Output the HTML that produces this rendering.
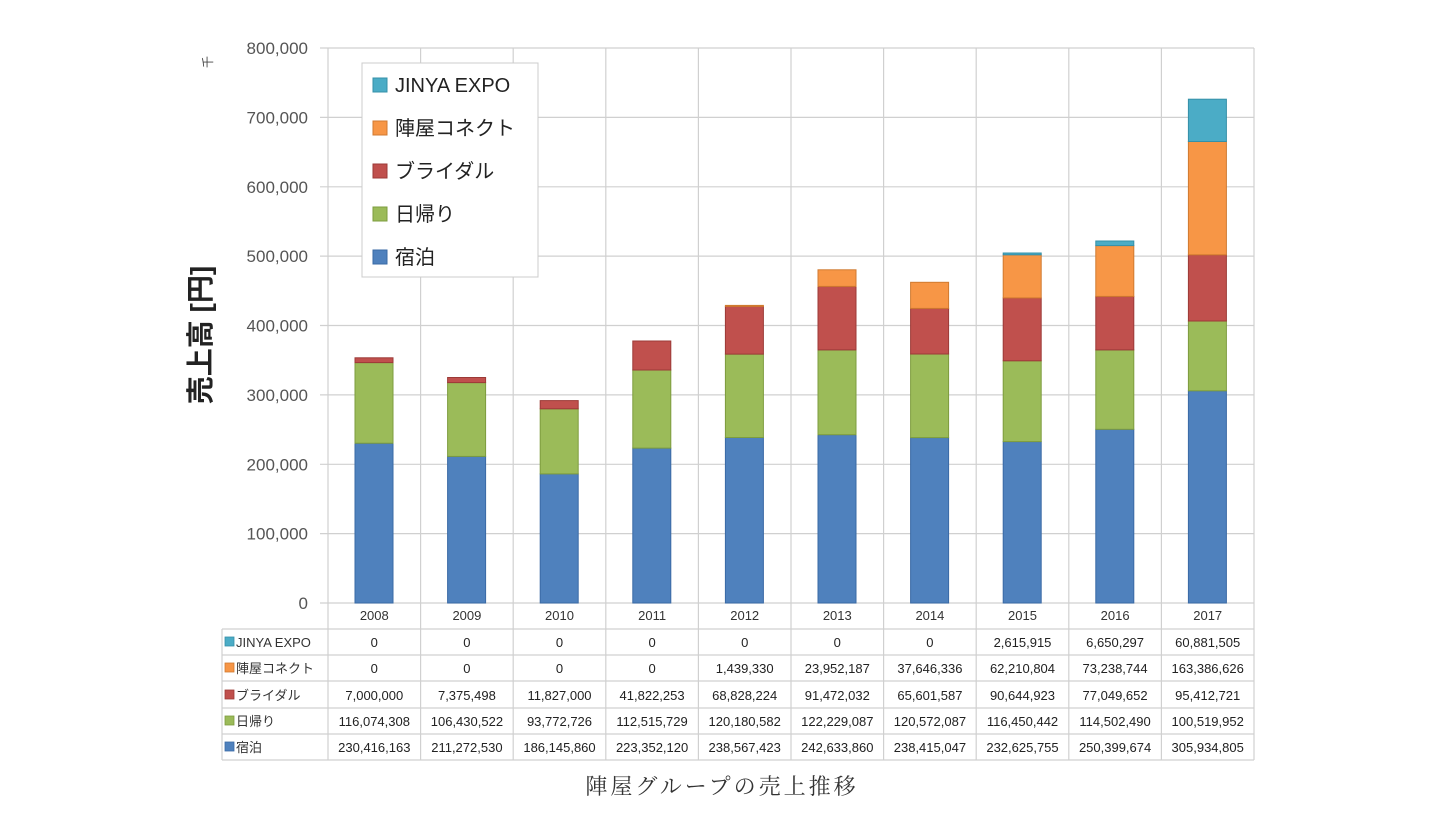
<!DOCTYPE html>
<html><head><meta charset="utf-8"><style>
body{margin:0;background:#fff;width:1440px;height:823px;overflow:hidden}
</style></head><body>
<svg width="1440" height="823" xmlns="http://www.w3.org/2000/svg" font-family="'Liberation Sans','Noto Sans CJK JP',sans-serif">
<g stroke="#d0d0d0" stroke-width="1.2">
<line x1="320" y1="48" x2="1254" y2="48"/>
<line x1="320" y1="117.4" x2="1254" y2="117.4"/>
<line x1="320" y1="186.8" x2="1254" y2="186.8"/>
<line x1="320" y1="256.1" x2="1254" y2="256.1"/>
<line x1="320" y1="325.5" x2="1254" y2="325.5"/>
<line x1="320" y1="394.9" x2="1254" y2="394.9"/>
<line x1="320" y1="464.3" x2="1254" y2="464.3"/>
<line x1="320" y1="533.6" x2="1254" y2="533.6"/>
<line x1="320" y1="603" x2="1254" y2="603"/>
<line x1="328" y1="48" x2="328" y2="760"/>
<line x1="420.6" y1="48" x2="420.6" y2="760"/>
<line x1="513.2" y1="48" x2="513.2" y2="760"/>
<line x1="605.8" y1="48" x2="605.8" y2="760"/>
<line x1="698.4" y1="48" x2="698.4" y2="760"/>
<line x1="791" y1="48" x2="791" y2="760"/>
<line x1="883.6" y1="48" x2="883.6" y2="760"/>
<line x1="976.2" y1="48" x2="976.2" y2="760"/>
<line x1="1068.8" y1="48" x2="1068.8" y2="760"/>
<line x1="1161.4" y1="48" x2="1161.4" y2="760"/>
<line x1="1254" y1="48" x2="1254" y2="760"/>
<line x1="222" y1="629" x2="1254" y2="629"/>
<line x1="222" y1="655" x2="1254" y2="655"/>
<line x1="222" y1="681" x2="1254" y2="681"/>
<line x1="222" y1="708" x2="1254" y2="708"/>
<line x1="222" y1="734" x2="1254" y2="734"/>
<line x1="222" y1="760" x2="1254" y2="760"/>
<line x1="222" y1="629" x2="222" y2="760"/>
</g>
<g stroke-width="1">
<g fill="#4f81bd" stroke="#3a6aa5">
<rect x="355" y="443.2" width="38" height="159.8"/>
<rect x="447.6" y="456.4" width="38" height="146.6"/>
<rect x="540.2" y="473.9" width="38" height="129.1"/>
<rect x="632.8" y="448.1" width="38" height="154.9"/>
<rect x="725.4" y="437.5" width="38" height="165.5"/>
<rect x="818" y="434.7" width="38" height="168.3"/>
<rect x="910.6" y="437.6" width="38" height="165.4"/>
<rect x="1003.2" y="441.6" width="38" height="161.4"/>
<rect x="1095.8" y="429.3" width="38" height="173.7"/>
<rect x="1188.4" y="390.8" width="38" height="212.2"/>
</g>
<g fill="#9bbb59" stroke="#7d9c3e">
<rect x="355" y="362.6" width="38" height="80.6"/>
<rect x="447.6" y="382.6" width="38" height="73.8"/>
<rect x="540.2" y="408.8" width="38" height="65.1"/>
<rect x="632.8" y="370" width="38" height="78.1"/>
<rect x="725.4" y="354.1" width="38" height="83.4"/>
<rect x="818" y="349.9" width="38" height="84.8"/>
<rect x="910.6" y="354" width="38" height="83.6"/>
<rect x="1003.2" y="360.8" width="38" height="80.8"/>
<rect x="1095.8" y="349.9" width="38" height="79.4"/>
<rect x="1188.4" y="321" width="38" height="69.8"/>
</g>
<g fill="#c0504d" stroke="#9c3a37">
<rect x="355" y="357.8" width="38" height="4.8"/>
<rect x="447.6" y="377.5" width="38" height="5.1"/>
<rect x="540.2" y="400.6" width="38" height="8.2"/>
<rect x="632.8" y="341" width="38" height="29"/>
<rect x="725.4" y="306.4" width="38" height="47.7"/>
<rect x="818" y="286.4" width="38" height="63.5"/>
<rect x="910.6" y="308.4" width="38" height="45.6"/>
<rect x="1003.2" y="297.9" width="38" height="62.9"/>
<rect x="1095.8" y="296.4" width="38" height="53.5"/>
<rect x="1188.4" y="254.8" width="38" height="66.2"/>
</g>
<g fill="#f79646" stroke="#d07a30">
<rect x="725.4" y="305.4" width="38" height="1"/>
<rect x="818" y="269.8" width="38" height="16.6"/>
<rect x="910.6" y="282.3" width="38" height="26.1"/>
<rect x="1003.2" y="254.8" width="38" height="43.1"/>
<rect x="1095.8" y="245.6" width="38" height="50.8"/>
<rect x="1188.4" y="141.5" width="38" height="113.3"/>
</g>
<g fill="#4bacc6" stroke="#3590a8">
<rect x="1003.2" y="253" width="38" height="1.8"/>
<rect x="1095.8" y="241" width="38" height="4.6"/>
<rect x="1188.4" y="99.2" width="38" height="42.3"/>
</g>
</g>
<g font-size="17" fill="#555" text-anchor="end">
<text x="308" y="54">800,000</text>
<text x="308" y="123.4">700,000</text>
<text x="308" y="192.8">600,000</text>
<text x="308" y="262.1">500,000</text>
<text x="308" y="331.5">400,000</text>
<text x="308" y="400.9">300,000</text>
<text x="308" y="470.3">200,000</text>
<text x="308" y="539.6">100,000</text>
<text x="308" y="609">0</text>
</g>
<text transform="translate(212,62) rotate(-90)" font-size="12" fill="#444" text-anchor="middle">千</text>
<text transform="translate(210,335) rotate(-90)" font-size="28" font-weight="bold" fill="#222" text-anchor="middle">売上高 [円]</text>
<rect x="362" y="63" width="176" height="214" fill="#fff" stroke="#ccc"/>
<g stroke-width="1">
<rect x="373" y="78" width="14" height="14" fill="#4bacc6" stroke="#3590a8"/>
<rect x="373" y="121" width="14" height="14" fill="#f79646" stroke="#d07a30"/>
<rect x="373" y="164" width="14" height="14" fill="#c0504d" stroke="#9c3a37"/>
<rect x="373" y="207" width="14" height="14" fill="#9bbb59" stroke="#7d9c3e"/>
<rect x="373" y="250" width="14" height="14" fill="#4f81bd" stroke="#3a6aa5"/>
</g>
<g font-size="20" fill="#222">
<text x="395" y="92">JINYA EXPO</text>
<text x="395" y="135">陣屋コネクト</text>
<text x="395" y="178">ブライダル</text>
<text x="395" y="221">日帰り</text>
<text x="395" y="264">宿泊</text>
</g>
<g font-size="13" fill="#333" text-anchor="middle">
<text x="374.3" y="620">2008</text><text x="466.9" y="620">2009</text><text x="559.5" y="620">2010</text><text x="652.1" y="620">2011</text><text x="744.7" y="620">2012</text><text x="837.3" y="620">2013</text><text x="929.9" y="620">2014</text><text x="1022.5" y="620">2015</text><text x="1115.1" y="620">2016</text><text x="1207.7" y="620">2017</text>
</g>
<g stroke-width="0.8">
<rect x="225" y="637" width="9" height="9" fill="#4bacc6" stroke="#3590a8"/>
<rect x="225" y="663" width="9" height="9" fill="#f79646" stroke="#d07a30"/>
<rect x="225" y="690" width="9" height="9" fill="#c0504d" stroke="#9c3a37"/>
<rect x="225" y="716" width="9" height="9" fill="#9bbb59" stroke="#7d9c3e"/>
<rect x="225" y="742" width="9" height="9" fill="#4f81bd" stroke="#3a6aa5"/>
</g>
<g font-size="13" fill="#333">
<text x="236" y="647">JINYA EXPO</text>
<text x="236" y="673">陣屋コネクト</text>
<text x="236" y="700">ブライダル</text>
<text x="236" y="726">日帰り</text>
<text x="236" y="752">宿泊</text>
</g>
<g font-size="13" fill="#222" text-anchor="middle">
<g transform="translate(0,647)"><text x="374.3">0</text><text x="466.9">0</text><text x="559.5">0</text><text x="652.1">0</text><text x="744.7">0</text><text x="837.3">0</text><text x="929.9">0</text><text x="1022.5">2,615,915</text><text x="1115.1">6,650,297</text><text x="1207.7">60,881,505</text></g>
<g transform="translate(0,673)"><text x="374.3">0</text><text x="466.9">0</text><text x="559.5">0</text><text x="652.1">0</text><text x="744.7">1,439,330</text><text x="837.3">23,952,187</text><text x="929.9">37,646,336</text><text x="1022.5">62,210,804</text><text x="1115.1">73,238,744</text><text x="1207.7">163,386,626</text></g>
<g transform="translate(0,700)"><text x="374.3">7,000,000</text><text x="466.9">7,375,498</text><text x="559.5">11,827,000</text><text x="652.1">41,822,253</text><text x="744.7">68,828,224</text><text x="837.3">91,472,032</text><text x="929.9">65,601,587</text><text x="1022.5">90,644,923</text><text x="1115.1">77,049,652</text><text x="1207.7">95,412,721</text></g>
<g transform="translate(0,726)"><text x="374.3">116,074,308</text><text x="466.9">106,430,522</text><text x="559.5">93,772,726</text><text x="652.1">112,515,729</text><text x="744.7">120,180,582</text><text x="837.3">122,229,087</text><text x="929.9">120,572,087</text><text x="1022.5">116,450,442</text><text x="1115.1">114,502,490</text><text x="1207.7">100,519,952</text></g>
<g transform="translate(0,752)"><text x="374.3">230,416,163</text><text x="466.9">211,272,530</text><text x="559.5">186,145,860</text><text x="652.1">223,352,120</text><text x="744.7">238,567,423</text><text x="837.3">242,633,860</text><text x="929.9">238,415,047</text><text x="1022.5">232,625,755</text><text x="1115.1">250,399,674</text><text x="1207.7">305,934,805</text></g>
</g>
<text x="722" y="794" font-size="22" letter-spacing="3" fill="#333" text-anchor="middle" font-family="'Liberation Serif','Noto Serif CJK SC',serif">陣屋グループの売上推移</text>
</svg>
</body></html>
